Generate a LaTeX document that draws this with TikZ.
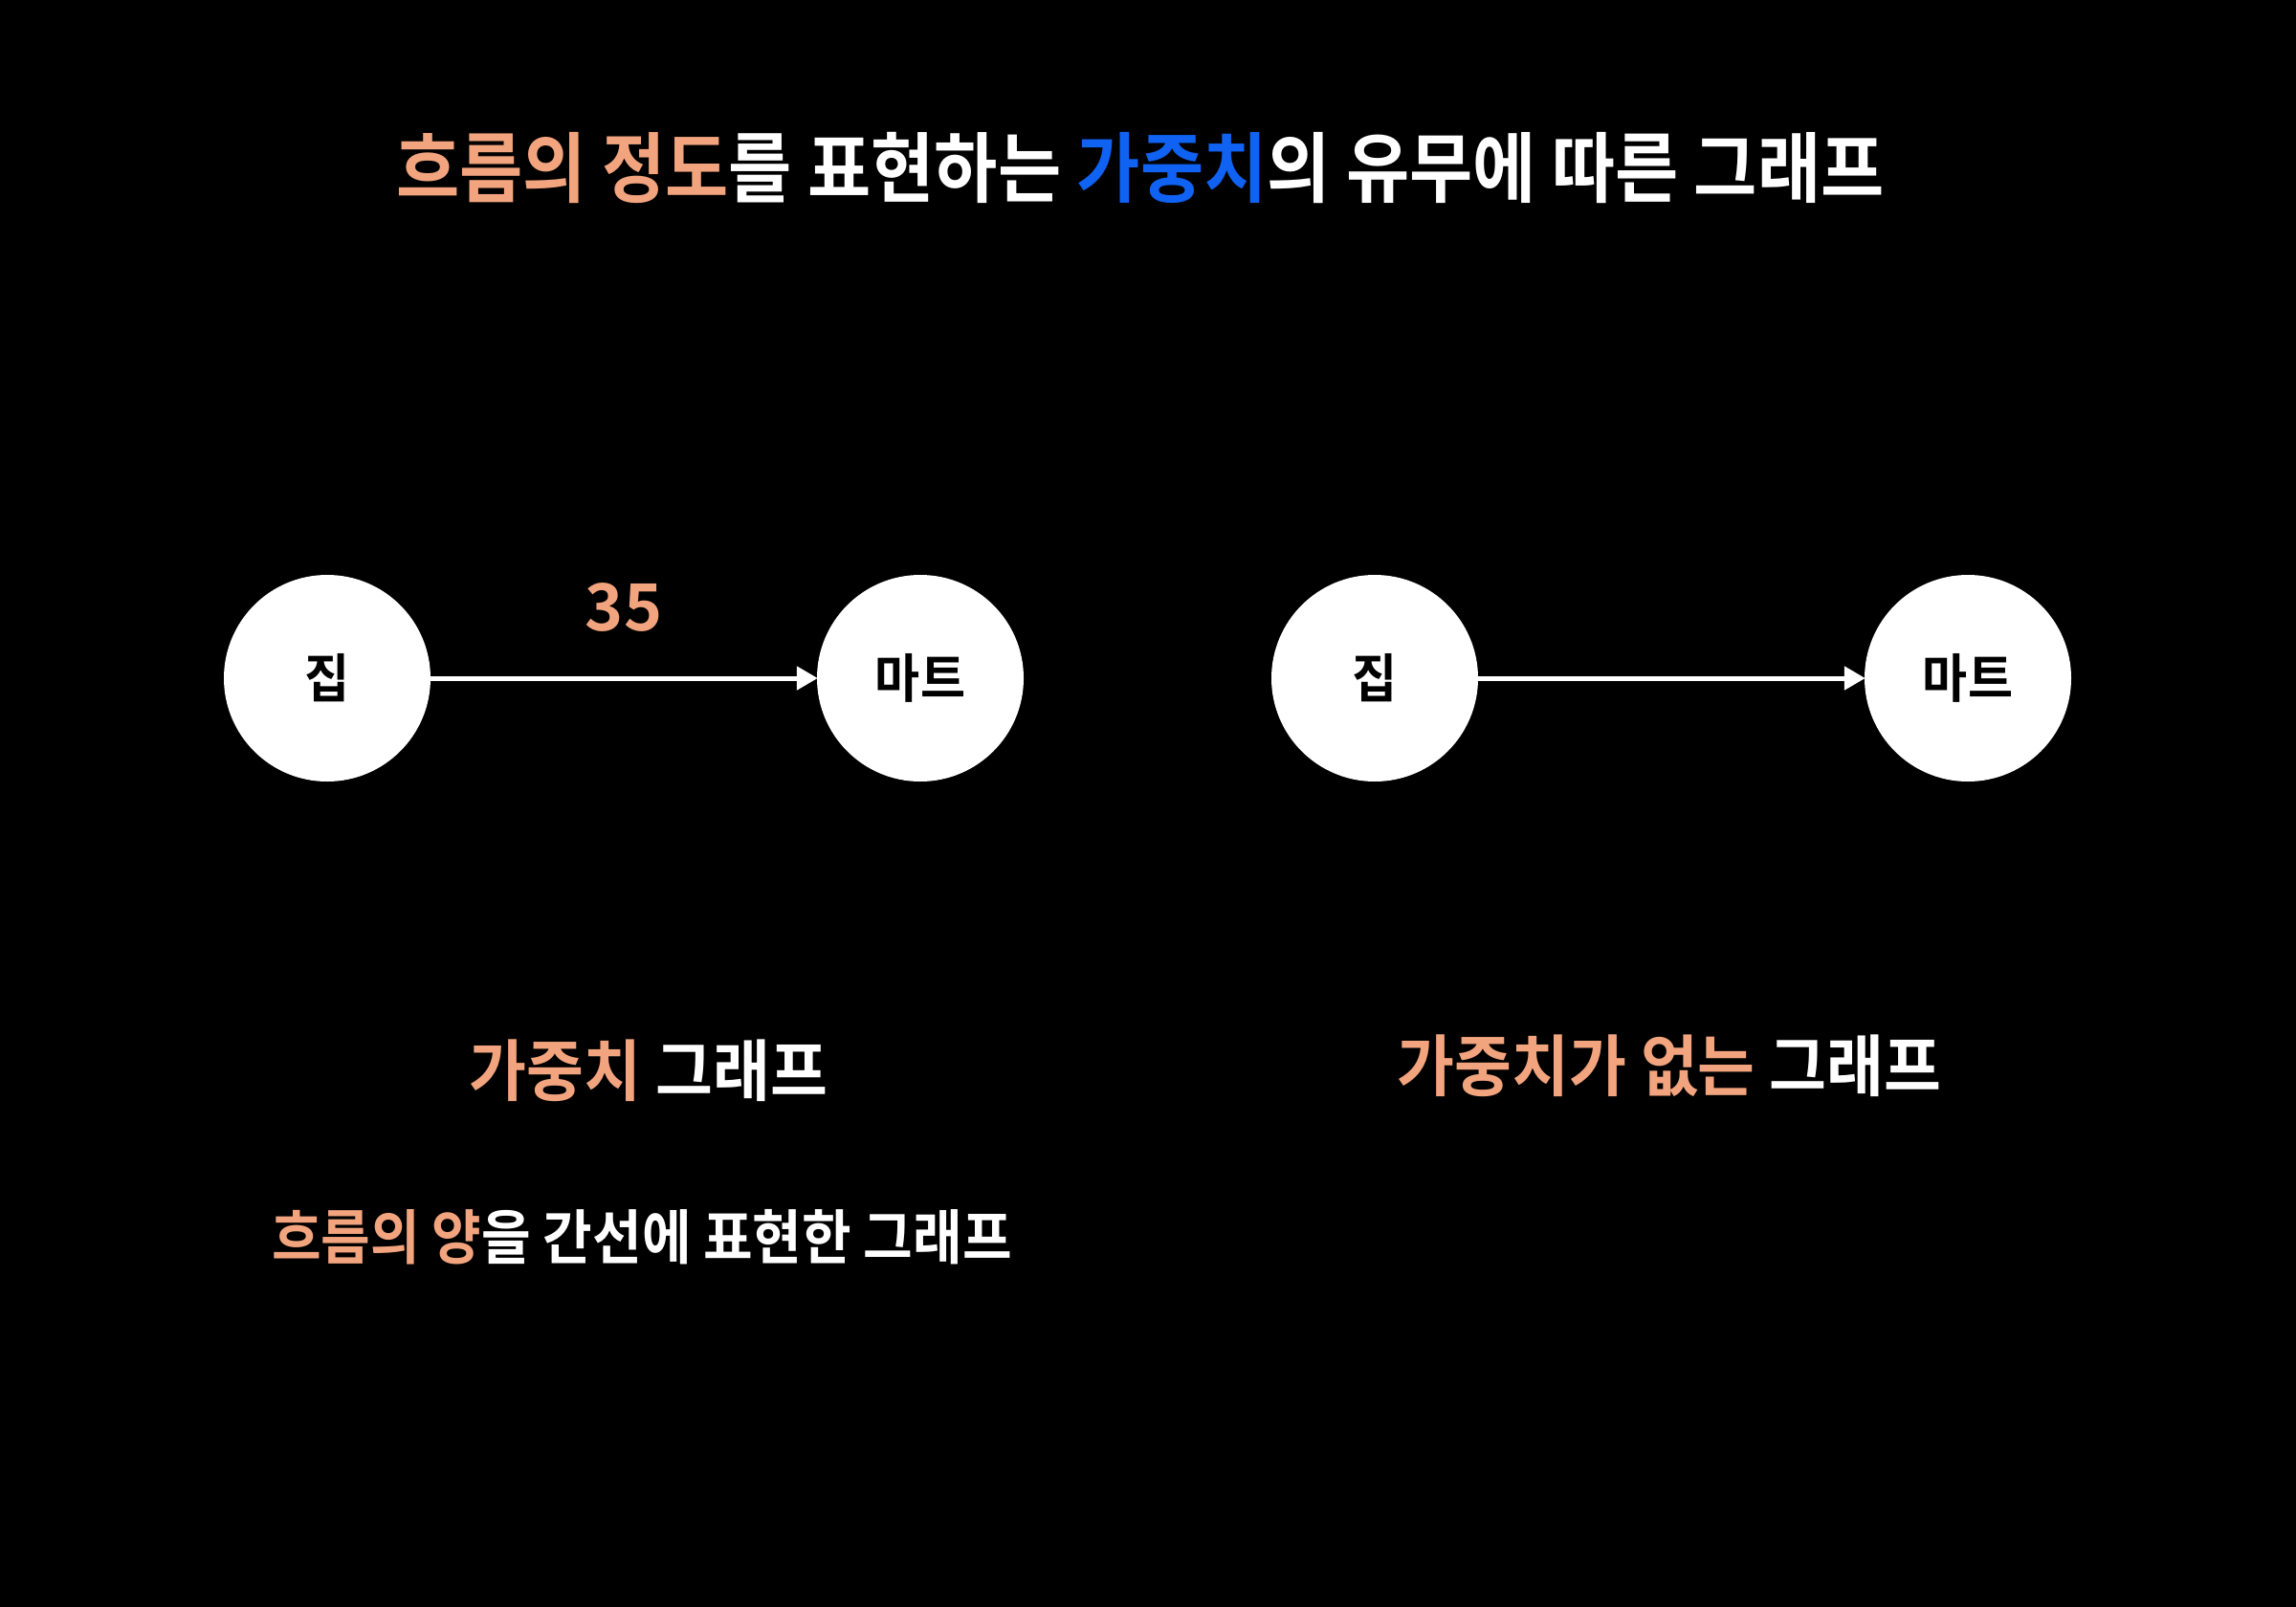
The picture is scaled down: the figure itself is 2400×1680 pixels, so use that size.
\documentclass[tikz,border=0pt]{standalone}
\usepackage{fontspec}
\usetikzlibrary{arrows.meta}
\newfontfamily\krtitle[FakeStretch=0.90]{Noto Sans CJK KR Bold}
\newfontfamily\krcap[FakeStretch=0.93]{Noto Sans CJK KR Bold}
\newfontfamily\krsub[FakeStretch=0.905]{Noto Sans CJK KR Bold}
\newfontfamily\krnum{Noto Sans CJK KR Bold}
\definecolor{accent}{HTML}{F2A47E}
\definecolor{bluetxt}{HTML}{0F62F2}
\begin{document}
\begin{tikzpicture}[x=1pt,y=-1pt,
  vnode/.style={circle,fill=white,draw=none,minimum size=216pt,inner sep=0pt,
    font=\krcap\fontsize{55}{60}\selectfont,text=black},
  edgearrow/.style={draw=white,line width=5pt,-{Triangle[length=22pt,width=24pt]},shorten >=-1pt},
  lbl/.style={inner sep=0pt,anchor=center,text=white}]
\fill[black] (0,0) rectangle (2400,1680);
\useasboundingbox (0,0) rectangle (2400,1680);
% title
\node[lbl,font=\krtitle\fontsize{80}{90}\selectfont] (title) at (1192,176)
  {\textcolor{accent}{흐름의 정도}를 표현하는 \textcolor{bluetxt}{가중치}의 유무에 따른 그래프};
% left graph
\node[vnode] (home1) at (342,709) {집};
\node[vnode] (mart1) at (962,709) {마트};
\draw[edgearrow] (home1) -- (mart1);
\node[lbl,text=accent,font=\krnum\fontsize{68}{76}\selectfont] (w) at (652,635) {35};
% right graph
\node[vnode] (home2) at (1437,709) {집};
\node[vnode] (mart2) at (2057,709) {마트};
\draw[edgearrow] (home2) -- (mart2);
% captions
\node[lbl,font=\krcap\fontsize{70}{76}\selectfont] (cap1) at (678,1119)
  {\textcolor{accent}{가중치} 그래프};
\node[lbl,font=\krcap\fontsize{70}{76}\selectfont] (cap2) at (1745,1114)
  {\textcolor{accent}{가중치가 없는} 그래프};
\node[lbl,font=\krsub\fontsize{62}{70}\selectfont] (cap3) at (671,1293)
  {\textcolor{accent}{흐름의 양}을 간선에 표현한 그래프};
\end{tikzpicture}
\end{document}
